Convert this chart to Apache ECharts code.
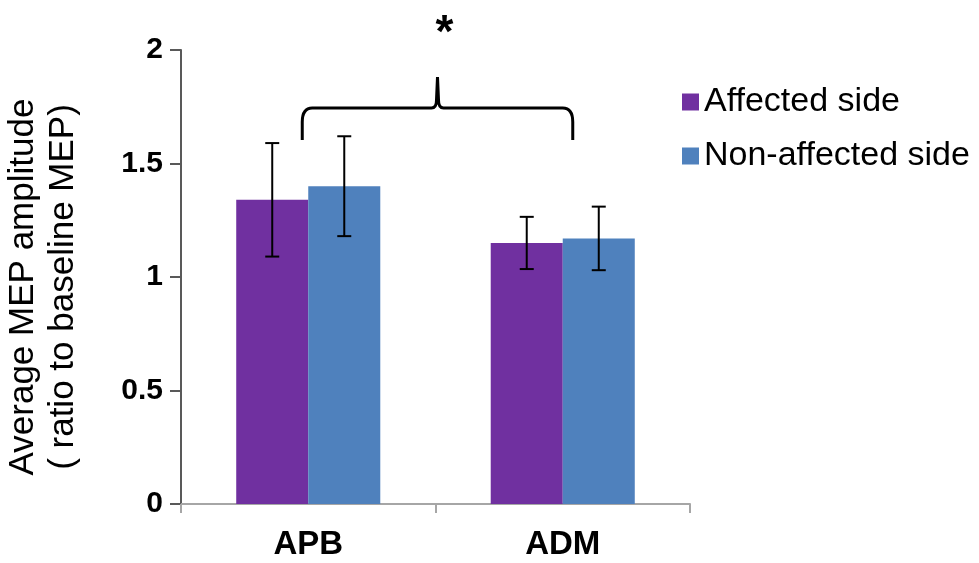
<!DOCTYPE html>
<html>
<head>
<meta charset="utf-8">
<script src="https://cdn.jsdelivr.net/npm/echarts@6/dist/echarts.min.js"></script>
<style>
  html, body { margin: 0; padding: 0; background: #ffffff; }
  #chart { width: 979px; height: 563px; }
</style>
</head>
<body>
<div id="chart"></div>
<script>
// Muscle groups on the x axis
const categories = ['APB', 'ADM'];

// Mean MEP amplitude ratio and its error, per side
const affected = [1.34, 1.15];
const affectedErr = [0.25, 0.115];
const nonAffected = [1.40, 1.17];
const nonAffectedErr = [0.22, 0.14];

// Significance bracket between the two muscles (y values on the amplitude scale)
const bracketFrom = 0;
const bracketTo = 1;
const bracketLevel = 1.745;
const bracketEndLevel = 1.604;
const bracketPeakLevel = 1.881;
const starLevel = 2.07;
const starText = '*';

const seriesNames = ['Affected side', 'Non-affected side'];
const colors = ['#7030A0', '#4F81BD'];
const categoryGap = 0.434;
const FONT = '"Liberation Sans", Arial, sans-serif';

function errorData(values, errs, sign) {
  return values.map((v, i) => [i, v, errs[i], sign]);
}

function renderError(params, api) {
  const i = api.value(0);
  const v = api.value(1);
  const e = api.value(2);
  const sign = api.value(3);
  const catW = api.size([1, 0])[0];
  const barW = catW * (1 - categoryGap) / 2;
  const c = api.coord([i, v]);
  const x = c[0] + sign * barW / 2;
  const yTop = api.coord([i, v + e])[1];
  const yBot = api.coord([i, v - e])[1];
  const cap = 7;
  const style = { stroke: '#000000', lineWidth: 2 };
  return {
    type: 'group',
    children: [
      { type: 'line', shape: { x1: x, y1: yTop, x2: x, y2: yBot }, style },
      { type: 'line', shape: { x1: x - cap, y1: yTop, x2: x + cap, y2: yTop }, style },
      { type: 'line', shape: { x1: x - cap, y1: yBot, x2: x + cap, y2: yBot }, style }
    ]
  };
}

function renderBracket(params, api) {
  const a = api.value(0);
  const b = api.value(1);
  const L = api.coord([a, bracketLevel])[0] - 6;
  const R = api.coord([b, bracketLevel])[0] + 10;
  const yh = api.coord([a, bracketLevel])[1];
  const ye = api.coord([a, bracketEndLevel])[1];
  const yp = api.coord([a, bracketPeakLevel])[1];
  const ys = api.coord([a, starLevel])[1];
  const M = (L + R) / 2;
  const d = [
    'M', L, ye,
    'L', L, yh + 14,
    'Q', L, yh, L + 10, yh,
    'L', M - 6, yh,
    'Q', M - 1, yh, M - 1, yh - 8,
    'L', M, yp,
    'L', M + 1, yh - 8,
    'Q', M + 1, yh, M + 6, yh,
    'L', R - 10, yh,
    'Q', R, yh, R, yh + 14,
    'L', R, ye
  ].join(' ');
  return {
    type: 'group',
    children: [
      { type: 'path', shape: { pathData: d }, style: { fill: null, stroke: '#000000', lineWidth: 3 } },
      {
        type: 'text',
        style: {
          text: starText, x: M + 7, y: ys, align: 'center', verticalAlign: 'middle',
          font: 'bold 46px ' + FONT, fill: '#000000'
        }
      }
    ]
  };
}

const chart = echarts.init(document.getElementById('chart'), null, { renderer: 'canvas' });

chart.setOption({
  animation: false,
  backgroundColor: '#ffffff',
  grid: { left: 181, right: 289, top: 50, bottom: 59, containLabel: false, outerBoundsMode: 'none' },
  legend: {
    data: seriesNames,
    orient: 'vertical',
    left: 677,
    top: 79,
    icon: 'rect',
    itemWidth: 17,
    itemHeight: 17,
    itemGap: 18,
    textStyle: { fontFamily: FONT, fontSize: 34, color: '#000000', lineHeight: 36 }
  },
  xAxis: {
    type: 'category',
    data: categories,
    axisLine: { lineStyle: { color: '#a6a6a6', width: 2 } },
    axisTick: { show: true, length: 9, lineStyle: { color: '#a6a6a6', width: 2 } },
    axisLabel: { margin: 24, fontFamily: FONT, fontSize: 33, fontWeight: 'bold', color: '#000000' }
  },
  yAxis: {
    type: 'value',
    min: 0,
    max: 2,
    interval: 0.5,
    name: 'Average MEP amplitude\n( ratio to baseline MEP)',
    nameLocation: 'middle',
    nameRotate: 90,
    nameGap: 98,
    nameTextStyle: { fontFamily: FONT, fontSize: 35, color: '#000000', lineHeight: 40, padding: [0, 20, 0, 0] },
    splitLine: { show: false },
    axisLine: { show: true, lineStyle: { color: '#595959', width: 2 } },
    axisTick: { show: true, length: 11, lineStyle: { color: '#595959', width: 2 } },
    axisLabel: { margin: 18, fontFamily: FONT, fontSize: 30, fontWeight: 'bold', color: '#000000' }
  },
  series: [
    {
      name: seriesNames[0], type: 'bar', data: affected,
      itemStyle: { color: colors[0] },
      barGap: '0%', barCategoryGap: (categoryGap * 100) + '%'
    },
    {
      name: seriesNames[1], type: 'bar', data: nonAffected,
      itemStyle: { color: colors[1] },
      barGap: '0%', barCategoryGap: (categoryGap * 100) + '%'
    },
    {
      name: 'errAffected', type: 'custom', renderItem: renderError,
      data: errorData(affected, affectedErr, -1), z: 5, silent: true
    },
    {
      name: 'errNonAffected', type: 'custom', renderItem: renderError,
      data: errorData(nonAffected, nonAffectedErr, 1), z: 5, silent: true
    },
    {
      name: 'bracket', type: 'custom', renderItem: renderBracket, clip: false,
      data: [[bracketFrom, bracketTo]], z: 6, silent: true
    }
  ]
});
</script>
</body>
</html>
